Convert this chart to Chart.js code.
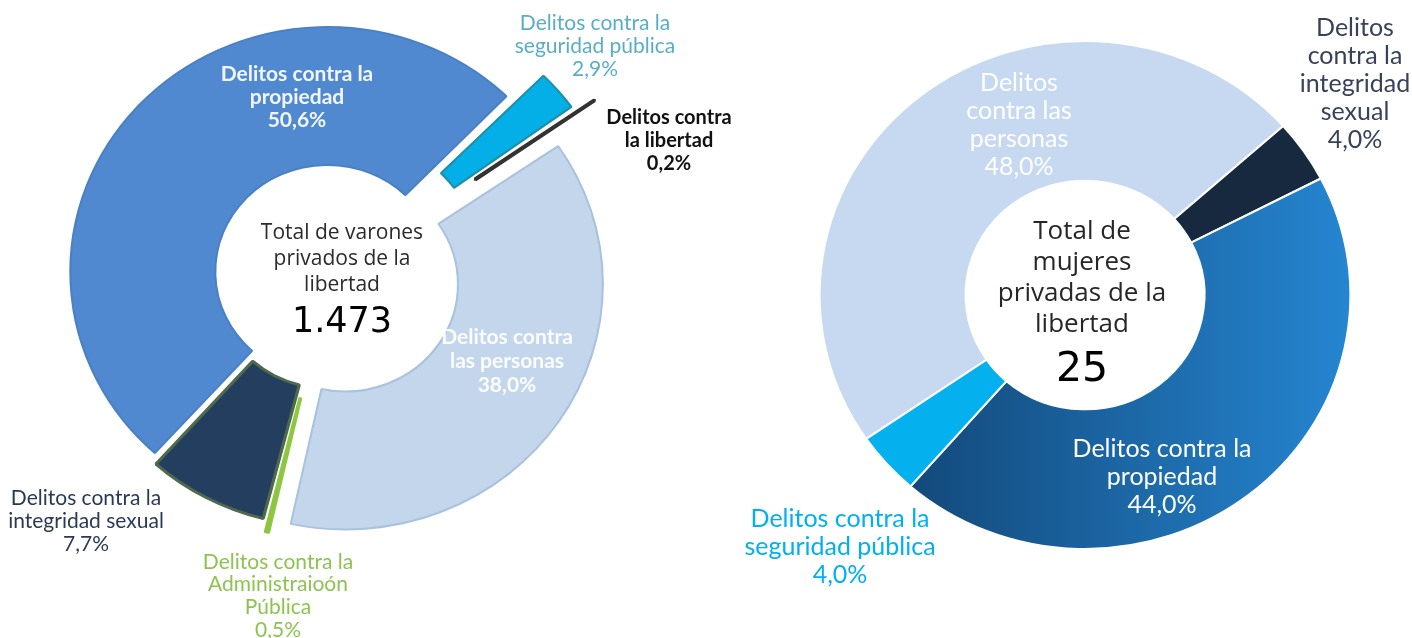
<!DOCTYPE html>
<html>
<head>
<meta charset="utf-8">
<title>Delitos - privados de la libertad</title>
<script src="https://cdn.jsdelivr.net/npm/chart.js@4.4.1/dist/chart.umd.min.js"></script>
<style>
    body { margin: 0; background: #ffffff; }
    .chart_div { position: absolute; top: 0; height: 638px; }
    #varonesDiv { left: 0; width: 780px; }
    #mujeresDiv { left: 706px; width: 706px; }
</style>
</head>
<body>
<div class="chart_div" id="varonesDiv"><canvas id="varonesChart" width="780" height="638"></canvas></div>
<div class="chart_div" id="mujeresDiv"><canvas id="mujeresChart" width="706" height="638"></canvas></div>
<script>
/* Varones: categorias y porcentajes */
var varonesCategories = [
    'Delitos contra la propiedad',
    'Delitos contra la seguridad pública',
    'Delitos contra la libertad',
    'Delitos contra las personas',
    'Delitos contra la Administraioón Pública',
    'Delitos contra la integridad sexual'
];
var varonesPercent = [50.6, 2.9, 0.2, 38.0, 0.5, 7.7];
var varonesTitle = 'Total de varones privados de la libertad';
var varonesTotal = 1473;

/* Mujeres: categorias y porcentajes */
var mujeresCategories = [
    'Delitos contra las personas',
    'Delitos contra la integridad sexual',
    'Delitos contra la propiedad',
    'Delitos contra la seguridad pública'
];
var mujeresPercent = [48.0, 4.0, 44.0, 4.0];
var mujeresTitle = 'Total de mujeres privadas de la libertad';
var mujeresTotal = 25;

/**
 * Helpers for the text drawn on the canvas
 **/
function formatPercent(v) {
    return v.toFixed(1).replace('.', ',') + '%';
}
function formatThousands(n) {
    return String(n).replace(/\B(?=(\d{3})+(?!\d))/g, '.');
}
// splits a name into lines, wrap = number of words on each line
function wrapWords(text, wrap) {
    var words = text.split(' ');
    var lines = [];
    var k = 0;
    for (var i = 0; i < wrap.length; i++) {
        lines.push(words.slice(k, k + wrap[i]).join(' '));
        k += wrap[i];
    }
    return lines;
}

/**
 * Stretches the rings horizontally around the chart center
 **/
var stretchPlugin = {
    id: 'stretchX',
    beforeDatasetsDraw: function (chart, args, opts) {
        if (!opts.factor || opts.factor === 1) return;
        var ctx = chart.ctx;
        var cx = (chart.chartArea.left + chart.chartArea.right) / 2;
        ctx.save();
        ctx.translate(cx, 0);
        ctx.scale(opts.factor, 1);
        ctx.translate(-cx, 0);
    },
    afterDatasetsDraw: function (chart, args, opts) {
        if (!opts.factor || opts.factor === 1) return;
        chart.ctx.restore();
    }
};

/**
 * Draws the slice labels and the text inside the hole
 **/
var textPlugin = {
    id: 'donutText',
    afterDraw: function (chart, args, opts) {
        var ctx = chart.ctx;
        ctx.save();
        ctx.textAlign = 'center';
        ctx.textBaseline = 'middle';
        opts.items.forEach(function (item) {
            ctx.font = item.font;
            ctx.fillStyle = item.color;
            item.lines.forEach(function (line, j) {
                ctx.fillText(line, item.x, item.y + j * item.lh);
            });
        });
        ctx.restore();
    }
};

/**
 * Doughnut with exploded slices, labels and a total in the middle
 **/
class DonutChart {
    constructor(canvasID, categories, percent, title, total, style) {
        this.canvasID = canvasID;
        this.categories = categories;
        this.percent = percent;
        this.title = title;
        this.total = total;
        this.style = style;
    }

    buildTextItems() {
        var s = this.style;
        var items = [];
        for (var i = 0; i < this.categories.length; i++) {
            var lab = s.labels[i];
            var lines = wrapWords(this.categories[i], lab.wrap);
            lines.push(formatPercent(this.percent[i]));
            items.push({ x: lab.x, y: lab.y, lh: lab.lh, font: lab.font, color: lab.color, lines: lines });
        }
        var c = s.centerText;
        items.push({ x: c.x, y: c.y, lh: c.lh, font: c.font, color: c.color, lines: wrapWords(this.title, c.wrap) });
        items.push({ x: c.x, y: c.totalY, lh: 0, font: c.totalFont, color: c.totalColor, lines: [formatThousands(this.total)] });
        return items;
    }

    displayChart() {
        var s = this.style;
        var ctx = document.getElementById(this.canvasID);
        var w = ctx.width;
        var h = ctx.height;
        // padding moves the chart area so that its middle is the ring center
        var padding = {
            left: Math.max(0, 2 * s.center[0] - w),
            right: Math.max(0, w - 2 * s.center[0]),
            top: Math.max(0, 2 * s.center[1] - h),
            bottom: Math.max(0, h - 2 * s.center[1])
        };
        return new Chart(ctx, {
            type: 'doughnut',
            data: {
                labels: this.categories,
                datasets: [{
                    data: this.percent,
                    backgroundColor: s.colors,
                    borderColor: s.borderColors,
                    borderWidth: s.borderWidths,
                    borderAlign: 'center',
                    offset: s.offsets,
                    hoverOffset: 0
                }]
            },
            options: {
                responsive: false,
                animation: false,
                radius: s.radius,
                cutout: s.cutout,
                rotation: s.rotation,
                layout: { padding: padding },
                events: [],
                plugins: {
                    legend: { display: false },
                    tooltip: { enabled: false },
                    stretchX: { factor: s.stretchX },
                    donutText: { items: this.buildTextItems() }
                }
            },
            plugins: [stretchPlugin, textPlugin]
        });
    }
}

var labelFont = 'Lato, "Liberation Sans", sans-serif';
var centerFont = '"Open Sans", "Noto Sans", sans-serif';
var numberFont = '"DejaVu Sans", sans-serif';

// arc offsets in Chart.js v4 move a slice by offset/4 and widen it a bit
var varonesStyle = {
    center: [331, 275],
    radius: 240,
    cutout: '42.5%',
    rotation: -138,
    stretchX: 1.05,
    colors: ['#5089d0', '#04aee6', '#333333', '#c3d6ec', '#8fc640', '#233e5e'],
    borderColors: ['#4a80c4', '#1f8fa5', '#333333', '#a9c2de', '#8fc640', '#4d6a4c'],
    borderWidths: [2, 2, 4, 2, 2, 3],
    offsets: [19, 97, 132, 66, 50, 32],
    labels: [
        { x: 297, y: 74, lh: 23, wrap: [3, 1], font: 'bold 21px ' + labelFont, color: '#f2f6fc' },
        { x: 595, y: 23, lh: 23, wrap: [3, 2], font: '21px ' + labelFont, color: '#5aaec4' },
        { x: 669, y: 118, lh: 23, wrap: [2, 2], font: 'bold 20px ' + labelFont, color: '#111111' },
        { x: 507, y: 337, lh: 24, wrap: [2, 2], font: 'bold 21px ' + labelFont, color: 'rgba(255,255,255,0.92)' },
        { x: 278, y: 562, lh: 22.7, wrap: [3, 1, 1], font: '21px ' + labelFont, color: '#8dc450' },
        { x: 86, y: 498, lh: 23, wrap: [3, 2], font: '21px ' + labelFont, color: '#2a3a56' }
    ],
    centerText: {
        x: 342, y: 233, lh: 26, wrap: [3, 3, 1], font: '21px ' + centerFont, color: '#2b2b2b',
        totalY: 323, totalFont: '35px ' + numberFont, totalColor: '#000000'
    }
};

// horizontal gradient for the propiedad slice
function mujeresColor(context) {
    var flat = ['#c6d9f0', '#16293f', '#1f6fb0', '#05b0ee'];
    var i = context.dataIndex;
    var chart = context.chart;
    if (i !== 2 || !chart.chartArea) return flat[i];
    var cx = (chart.chartArea.left + chart.chartArea.right) / 2;
    var g = chart.ctx.createLinearGradient(cx - 190, 0, cx + 250, 0);
    g.addColorStop(0, '#124676');
    g.addColorStop(1, '#2585d0');
    return g;
}

var mujeresStyle = {
    center: [379, 295],
    radius: 254,
    cutout: '45%',
    rotation: -124.5,
    stretchX: 1.045,
    colors: mujeresColor,
    borderColors: '#ffffff',
    borderWidths: 2,
    offsets: 0,
    labels: [
        { x: 313, y: 83, lh: 28, wrap: [1, 2, 1], font: '25px ' + labelFont, color: '#ffffff' },
        { x: 649, y: 28, lh: 28, wrap: [1, 2, 1, 1], font: '25px ' + labelFont, color: '#37425a' },
        { x: 456, y: 449, lh: 28, wrap: [3, 1], font: '25px ' + labelFont, color: '#ffffff' },
        { x: 134, y: 519, lh: 28, wrap: [3, 2], font: '25px ' + labelFont, color: '#00b0f0' }
    ],
    centerText: {
        x: 376, y: 232, lh: 31, wrap: [2, 1, 3, 1], font: '26px ' + centerFont, color: '#262626',
        totalY: 370, totalFont: '41px ' + numberFont, totalColor: '#000000'
    }
};

var varones = new DonutChart('varonesChart', varonesCategories, varonesPercent, varonesTitle, varonesTotal, varonesStyle);
varones.displayChart();
var mujeres = new DonutChart('mujeresChart', mujeresCategories, mujeresPercent, mujeresTitle, mujeresTotal, mujeresStyle);
mujeres.displayChart();
</script>
</body>
</html>
